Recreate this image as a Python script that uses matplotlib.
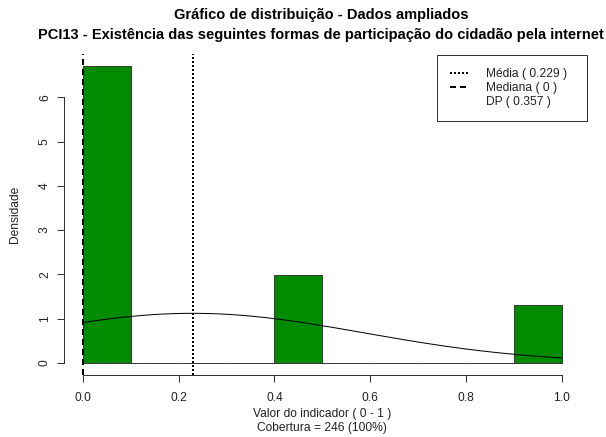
import numpy as np
import matplotlib
matplotlib.use("Agg")
import matplotlib.pyplot as plt
from matplotlib.lines import Line2D

plt.rcParams['font.family'] = ['Liberation Sans', 'DejaVu Sans']

# Data
bin_edges = [0.0, 0.1, 0.2, 0.3, 0.4, 0.5, 0.6, 0.7, 0.8, 0.9, 1.0]
densities = [6.707, 0, 0, 0, 1.992, 0, 0, 0, 0, 1.301]
mean_val = 0.229
median_val = 0.0
sd_val = 0.357
n_total = 246
x_ticks = [0.0, 0.2, 0.4, 0.6, 0.8, 1.0]
x_ticklabels = ["0.0", "0.2", "0.4", "0.6", "0.8", "1.0"]
y_ticks = [0, 1, 2, 3, 4, 5, 6]
title1 = "Gráfico de distribuição - Dados ampliados"
title2 = "PCI13 - Existência das seguintes formas de participação do cidadão pela internet"
xlabel = "Valor do indicador ( 0 - 1 )\nCobertura = 246 (100%)"
ylabel = "Densidade"

W, H = 606, 437
fig = plt.figure(figsize=(W / 100, H / 100), dpi=100)
px = 72 / 100  # points per pixel

left, right, top, bottom = 63.9, 580.7, 54.2, 374.6
ax = fig.add_axes([left / W, 1 - bottom / H, (right - left) / W, (bottom - top) / H])

ymax = max(densities)
ax.set_xlim(-0.04, 1.04)
ax.set_ylim(-0.04 * ymax, ymax * 1.04)

lefts = np.array(bin_edges[:-1])
widths = np.diff(bin_edges)
ax.bar(lefts, densities, width=widths, align='edge', color='#008B00',
       edgecolor='#3a3a3a', linewidth=1 * px, zorder=2)

# Normal curve from stated mean and sd
xs = np.linspace(0, 1, 300)
ys = np.exp(-(xs - mean_val) ** 2 / (2 * sd_val ** 2)) / (sd_val * np.sqrt(2 * np.pi))
ax.plot(xs, ys, color='black', linewidth=1 * px, zorder=3)

ax.axvline(mean_val, color='black', linewidth=2 * px, linestyle=(0, (1, 1)), zorder=4)
ax.axvline(median_val, color='black', linewidth=2 * px, linestyle=(0, (3, 2)), zorder=4)

for s in ['top', 'right']:
    ax.spines[s].set_visible(False)
ax.spines['left'].set_bounds(0, 6)
ax.spines['bottom'].set_bounds(0, 1)
for s in ['left', 'bottom']:
    ax.spines[s].set_color('#333333')
    ax.spines[s].set_linewidth(1 * px)

fs = 12 * px
ax.set_xticks(x_ticks)
ax.set_xticklabels(x_ticklabels, fontsize=fs, color='#222222')
ax.set_yticks(y_ticks)
ax.set_yticklabels([str(v) for v in y_ticks], fontsize=fs, rotation=90, va='center', color='#222222')
ax.tick_params(axis='both', length=7 * px, width=1 * px, color='#333333')
ax.tick_params(axis='x', pad=10.5 * px)
ax.tick_params(axis='y', pad=6 * px)

ax.set_xlabel(xlabel, fontsize=fs, linespacing=1.32, color='#222222')
ax.set_ylabel(ylabel, fontsize=fs, color='#222222')
ax.yaxis.set_label_coords(-(left - 15) / (right - left), 0.5)
ax.yaxis.label.set_va('center')
ax.xaxis.label.set_va('top')
ax.xaxis.set_label_coords((322.3 - left) / (right - left), -(407.5 - bottom) / (bottom - top))

cx = 321.3 / W
fig.text(cx, 1 - 15.5 / H, title1, ha='center', va='center', fontsize=14.6 * px, fontweight='bold')
fig.text(cx, 1 - 35.5 / H, title2, ha='center', va='center', fontsize=14.6 * px, fontweight='bold')

handles = [Line2D([], [], color='black', linewidth=2 * px, linestyle=(0, (1, 1))),
           Line2D([], [], color='black', linewidth=2 * px, linestyle=(0, (3, 2))),
           Line2D([], [], color='none')]
labels = [f"Média ( {mean_val} )", f"Mediana ( {median_val:g} )", f"DP ( {sd_val} )"]
lx0, lx1, ly0, ly1 = 437, 587, 55, 118
leg = fig.legend(handles, labels, loc='upper left', mode='expand',
                 bbox_to_anchor=(lx0 / W, 1 - ly1 / H, (lx1 - lx0) / W, (ly1 - ly0) / H),
                 fontsize=fs, frameon=True, fancybox=False, edgecolor='black',
                 borderpad=1.08, labelspacing=0.17, handlelength=1.7, handletextpad=1.3,
                 borderaxespad=0)
leg.get_frame().set_linewidth(1 * px)
for t in leg.get_texts():
    t.set_color('#222222')

fig.savefig('out.png', dpi=100)
